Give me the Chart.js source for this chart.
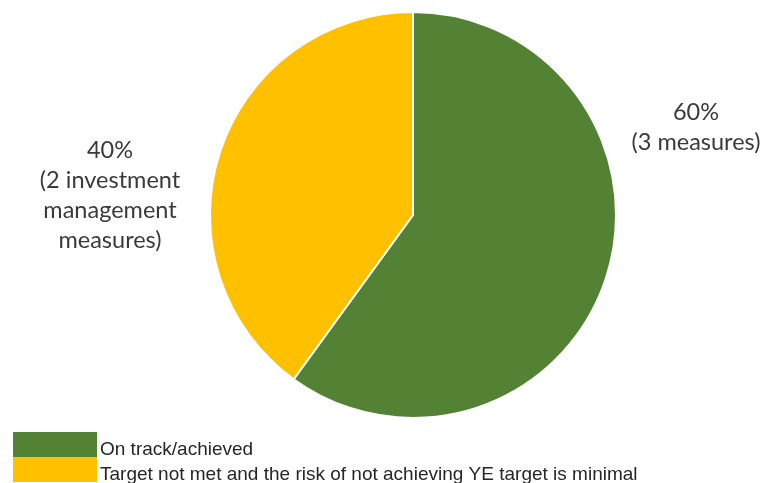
<!DOCTYPE html>
<html>
<head>
<meta charset="utf-8">
<script src="https://cdn.jsdelivr.net/npm/chart.js@4/dist/chart.umd.min.js"></script>
<style>
  html, body { margin: 0; padding: 0; background: #fff; }
  #wrap { width: 767px; height: 483px; }
</style>
</head>
<body>
<div id="wrap"><canvas id="myChart" width="767" height="483"></canvas></div>
<script>
// Status of measures
const categories = ['On track/achieved', 'Target not met and the risk of not achieving YE target is minimal'];
const shares = [60, 40];
const colors = ['#548235', '#FFC000'];
// Slice annotations, one list of lines per category
const sliceNotes = [
    ['60%', '(3 measures)'],
    ['40%', '(2 investment', 'management', 'measures)']
];

// Text beside each slice
const noteLabels = {
    id: 'noteLabels',
    afterDraw(chart) {
        const ctx = chart.ctx;
        const a = chart.chartArea;
        const spots = [
            { x: a.right + 79, y: 120 },
            { x: a.left - 99, y: 158 }
        ];
        ctx.save();
        ctx.font = '23.5px Lato';
        ctx.fillStyle = '#3a3a3a';
        ctx.textAlign = 'center';
        ctx.textBaseline = 'alphabetic';
        sliceNotes.forEach((lines, i) => {
            lines.forEach((line, j) => {
                ctx.fillText(line, spots[i].x, spots[i].y + j * 30);
            });
        });
        ctx.restore();
    }
};

// Stacked colour-block legend in the lower left corner
const blockLegend = {
    id: 'blockLegend',
    afterDraw(chart) {
        const ctx = chart.ctx;
        ctx.save();
        ctx.font = '19px "Liberation Sans", Arial';
        ctx.textBaseline = 'alphabetic';
        ctx.textAlign = 'left';
        categories.forEach((name, i) => {
            const top = 432 + i * 25;
            ctx.fillStyle = colors[i];
            ctx.fillRect(13, top, 84, 25);
            ctx.fillStyle = '#262626';
            ctx.fillText(name, 100, top + 23);
        });
        ctx.restore();
    }
};

new Chart(document.getElementById('myChart'), {
    type: 'pie',
    data: {
        labels: categories,
        datasets: [{
            data: shares,
            backgroundColor: colors,
            borderColor: '#ffffff',
            borderWidth: 2
        }]
    },
    options: {
        responsive: false,
        animation: false,
        layout: { padding: { left: 209, right: 150, top: 11, bottom: 64 } },
        plugins: {
            legend: { display: false },
            tooltip: { enabled: false }
        }
    },
    plugins: [noteLabels, blockLegend]
});
</script>
</body>
</html>
